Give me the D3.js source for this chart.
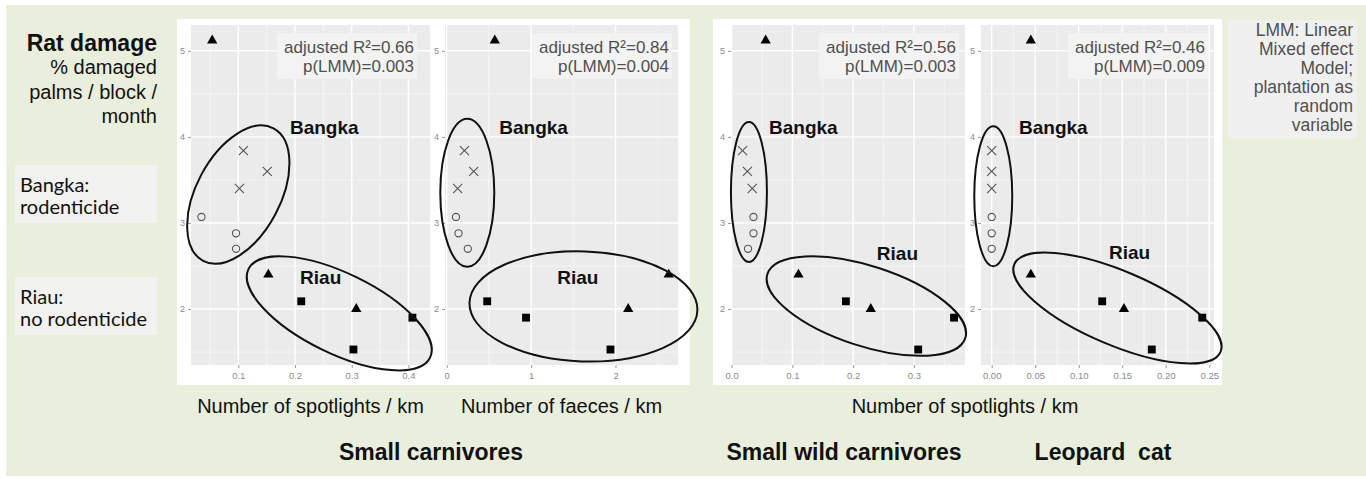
<!DOCTYPE html>
<html>
<head>
<meta charset="utf-8">
<script src="https://cdn.jsdelivr.net/npm/d3@7"></script>
<style>
  body { margin: 0; background: #fff; }
  svg { display: block; }
</style>
</head>
<body>
<svg id="chart" width="1366" height="479"></svg>
<script>
// rat damage (% damaged palms / block / month), one value per plantation block
const damage = [5.12, 3.84, 3.60, 3.40, 3.07, 2.88, 2.70, 2.40, 2.09, 2.00, 1.90, 1.53]
const shapes = ['triangle', 'cross', 'cross', 'cross', 'circle', 'circle', 'circle',
  'triangle', 'square', 'triangle', 'square', 'square']

// predictor values per block, same order as damage
const spotlightsSmall = [0.054, 0.109, 0.151, 0.102, 0.035, 0.096, 0.096, 0.153, 0.211, 0.308, 0.407, 0.303]
const faecesSmall = [0.57, 0.21, 0.32, 0.13, 0.11, 0.14, 0.25, 2.63, 0.48, 2.15, 0.94, 1.94]
const spotlightsWild = [0.056, 0.018, 0.026, 0.034, 0.036, 0.036, 0.027, 0.110, 0.188, 0.229, 0.366, 0.307]
const spotlightsCat = [0.045, 0, 0, 0, 0, 0, 0, 0.045, 0.127, 0.152, 0.242, 0.184]

const yTicks = [2, 3, 4, 5]
const xTicks = [
  [0.1, 0.2, 0.3, 0.4],
  [0, 1, 2],
  [0, 0.1, 0.2, 0.3],
  [0, 0.05, 0.1, 0.15, 0.2, 0.25],
]
const xTickFormats = ['.1f', 'd', '.1f', '.2f']
const xDomains = [[0.0166, 0.438], [-0.02, 2.74], [-0.001, 0.384], [-0.0123, 0.2555]]
const yDomain = [1.35, 5.3]

const r2Labels = ['adjusted R²=0.66', 'adjusted R²=0.84', 'adjusted R²=0.56', 'adjusted R²=0.46']
const pLabels = ['p(LMM)=0.003', 'p(LMM)=0.004', 'p(LMM)=0.003', 'p(LMM)=0.009']

// hand drawn group outlines: centre in data units, radii in px, tilt in degrees
const bangkaRings = [
  { x: 0.100, y: 3.33, rx: 75, ry: 42, tilt: -62 },
  { x: 0.244, y: 3.35, rx: 27, ry: 74, tilt: 0 },
  { x: 0.0285, y: 3.36, rx: 18, ry: 70, tilt: 0 },
  { x: 0.0018, y: 3.31, rx: 19, ry: 70, tilt: 0 },
]
const riauRings = [
  { x: 0.278, y: 1.95, rx: 101, ry: 40, tilt: 26 },
  { x: 1.62, y: 2.03, rx: 114, ry: 55, tilt: 2 },
  { x: 0.2217, y: 2.035, rx: 104, ry: 40, tilt: 18 },
  { x: 0.1445, y: 2.012, rx: 112, ry: 37, tilt: 23 },
]
const bangkaLabelAt = [[0.191, 4.03], [0.623, 4.03], [0.0615, 4.03], [0.0314, 4.03]]
const riauLabelAt = [[0.209, 2.294], [1.31, 2.294], [0.239, 2.57], [0.1348, 2.58]]

const xTitles = ['Number of spotlights / km', 'Number of faeces / km', 'Number of spotlights / km']
const groupTitles = ['Small carnivores', 'Small wild carnivores', 'Leopard  cat']
const lmmNote = ['LMM: Linear', 'Mixed effect', 'Model;', 'plantation as', 'random', 'variable']

const svg = d3.select('#chart')
const sans = 'Arial, "Liberation Sans", sans-serif'

svg.append('rect').attr('x', 6).attr('y', 5).attr('width', 1360).attr('height', 471)
  .attr('fill', '#e9eedd')

// plot frames (white) and plotting areas (grey)
const frames = [[177, 432], [432, 690], [713, 970], [970, 1222]]
const areas = [[191, 430], [445, 678], [731, 965], [981, 1214]]
const plotTop = 25
const plotBottom = 365

frames.forEach(([a, b]) => {
  svg.append('rect').attr('x', a).attr('y', 19).attr('width', b - a).attr('height', 366)
    .attr('fill', '#fff')
})

const y = d3.scaleLinear().domain(yDomain).range([plotBottom, plotTop])
const series = [spotlightsSmall, faecesSmall, spotlightsWild, spotlightsCat]

const minorOf = (ticks, domain) => {
  const step = ticks[1] - ticks[0]
  return ticks.map((t) => t - step / 2).concat([ticks[ticks.length - 1] + step / 2])
    .filter((t) => t > domain[0] && t < domain[1])
}

const symbolFor = {
  triangle: d3.symbol().type(d3.symbolTriangle).size(46),
  square: d3.symbol().type(d3.symbolSquare).size(62),
  cross: d3.symbol().type(d3.symbolTimes).size(56),
}

series.forEach((xs, i) => {
  const [left, right] = areas[i]
  const x = d3.scaleLinear().domain(xDomains[i]).range([left, right])
  const g = svg.append('g')

  g.append('rect').attr('x', left).attr('y', plotTop).attr('width', right - left)
    .attr('height', plotBottom - plotTop).attr('fill', '#ebebeb')

  // minor grid
  g.selectAll('.vmin').data(minorOf(xTicks[i], xDomains[i])).join('line')
    .attr('x1', (d) => x(d)).attr('x2', (d) => x(d)).attr('y1', plotTop).attr('y2', plotBottom)
    .attr('stroke', '#f7f7f7').attr('stroke-width', 0.8)
  g.selectAll('.hmin').data(minorOf(yTicks, yDomain)).join('line')
    .attr('y1', (d) => y(d)).attr('y2', (d) => y(d)).attr('x1', left).attr('x2', right)
    .attr('stroke', '#f7f7f7').attr('stroke-width', 0.8)

  // axes with major grid
  const xAxis = g.append('g').attr('transform', `translate(0,${plotBottom})`)
    .call(d3.axisBottom(x).tickValues(xTicks[i]).tickFormat(d3.format(xTickFormats[i]))
      .tickSize(3).tickPadding(4))
  xAxis.select('.domain').remove()
  xAxis.selectAll('line').attr('stroke', '#999')
  xAxis.selectAll('text').attr('fill', '#8a8a8a').style('font', `9.5px ${sans}`)
  g.selectAll('.vmaj').data(xTicks[i]).join('line')
    .attr('x1', (d) => x(d)).attr('x2', (d) => x(d)).attr('y1', plotTop).attr('y2', plotBottom)
    .attr('stroke', '#fff').attr('stroke-width', 1.4)

  const yAxis = g.append('g').attr('transform', `translate(${left},0)`)
    .call(d3.axisLeft(y).tickValues(yTicks).tickFormat(d3.format('d')).tickSize(3).tickPadding(3))
  yAxis.select('.domain').remove()
  yAxis.selectAll('line').attr('stroke', '#999')
  yAxis.selectAll('text').attr('fill', '#8a8a8a').style('font', `9px ${sans}`)
  g.selectAll('.hmaj').data(yTicks).join('line')
    .attr('y1', (d) => y(d)).attr('y2', (d) => y(d)).attr('x1', left).attr('x2', right)
    .attr('stroke', '#fff').attr('stroke-width', 1.4)

  // stats box
  const statBox = g.append('g')
  const bx = right - (i === 0 ? 13 : 6)
  statBox.append('rect').attr('x', bx - 140).attr('y', 33).attr('width', 140).attr('height', 46)
    .attr('fill', '#f3f3f3')
  statBox.selectAll('text').data([r2Labels[i], pLabels[i]]).join('text')
    .attr('x', bx - 3).attr('y', (d, k) => 53 + k * 19)
    .attr('text-anchor', 'end').attr('fill', '#505050')
    .style('font', `17px ${sans}`).text((d) => d)

  // points
  const pts = damage.map((v, k) => ({ x: xs[k], y: v, shape: shapes[k] }))
  g.selectAll('.pt').data(pts).join((enter) => enter.append((d) =>
    document.createElementNS('http://www.w3.org/2000/svg', d.shape === 'circle' ? 'circle' : 'path')))
    .each(function (d) {
      const el = d3.select(this)
      if (d.shape === 'circle') {
        el.attr('cx', x(d.x)).attr('cy', y(d.y)).attr('r', 3.6)
          .attr('fill', 'none').attr('stroke', '#555').attr('stroke-width', 1.1)
      } else {
        el.attr('transform', `translate(${x(d.x)},${y(d.y)})`).attr('d', symbolFor[d.shape]())
        if (d.shape === 'cross') {
          el.attr('fill', 'none').attr('stroke', '#555').attr('stroke-width', 1.1)
        } else {
          el.attr('fill', '#000')
        }
      }
    })

  // group outlines
  ;[bangkaRings[i], riauRings[i]].forEach((e) => {
    g.append('ellipse').attr('cx', 0).attr('cy', 0).attr('rx', e.rx).attr('ry', e.ry)
      .attr('transform', `translate(${x(e.x)},${y(e.y)}) rotate(${e.tilt})`)
      .attr('fill', 'none').attr('stroke', '#111').attr('stroke-width', 2)
  })
  g.append('text').attr('x', x(bangkaLabelAt[i][0])).attr('y', y(bangkaLabelAt[i][1]))
    .style('font', `bold 19px ${sans}`).attr('fill', '#111').text('Bangka')
  g.append('text').attr('x', x(riauLabelAt[i][0])).attr('y', y(riauLabelAt[i][1]))
    .style('font', `bold 19px ${sans}`).attr('fill', '#111').text('Riau')
})

// axis titles under the panels
const titleAt = [(areas[0][0] + areas[0][1]) / 2, (areas[1][0] + areas[1][1]) / 2, 965]
xTitles.forEach((t, k) => {
  svg.append('text').attr('x', titleAt[k]).attr('y', 413).attr('text-anchor', 'middle')
    .style('font', `20px ${sans}`).attr('fill', '#111').text(t)
})
const groupAt = [431, 844, 1103]
groupTitles.forEach((t, k) => {
  svg.append('text').attr('x', groupAt[k]).attr('y', 460).attr('text-anchor', 'middle')
    .style('font', `bold 23px ${sans}`).attr('fill', '#111').style('white-space', 'pre')
    .text(t)
})

// y title on the left
svg.append('text').attr('x', 157).attr('y', 51).attr('text-anchor', 'end')
  .style('font', `bold 23px ${sans}`).attr('fill', '#111').text('Rat damage')
;['% damaged', 'palms / block /', 'month'].forEach((t, k) => {
  svg.append('text').attr('x', 157).attr('y', 74 + k * 24.5).attr('text-anchor', 'end')
    .style('font', `20px ${sans}`).attr('fill', '#111').text(t)
})

// region notes
const notes = [
  { y0: 165, lines: ['Bangka:', 'rodenticide'] },
  { y0: 277, lines: ['Riau:', 'no rodenticide'] },
]
notes.forEach((n) => {
  svg.append('rect').attr('x', 15).attr('y', n.y0).attr('width', 142).attr('height', 58)
    .attr('fill', '#f2f2f0')
  n.lines.forEach((t, k) => {
    svg.append('text').attr('x', 20).attr('y', n.y0 + 27 + k * 21.5)
      .style('font', '20px Lato, "Open Sans", sans-serif').attr('fill', '#111').text(t)
  })
})

// LMM note
svg.append('rect').attr('x', 1228).attr('y', 20).attr('width', 129).attr('height', 118)
  .attr('fill', '#f0f0f0')
lmmNote.forEach((t, k) => {
  svg.append('text').attr('x', 1353).attr('y', 36 + k * 19).attr('text-anchor', 'end')
    .style('font', `17.5px ${sans}`).attr('fill', '#505050').text(t)
})
</script>
</body>
</html>
